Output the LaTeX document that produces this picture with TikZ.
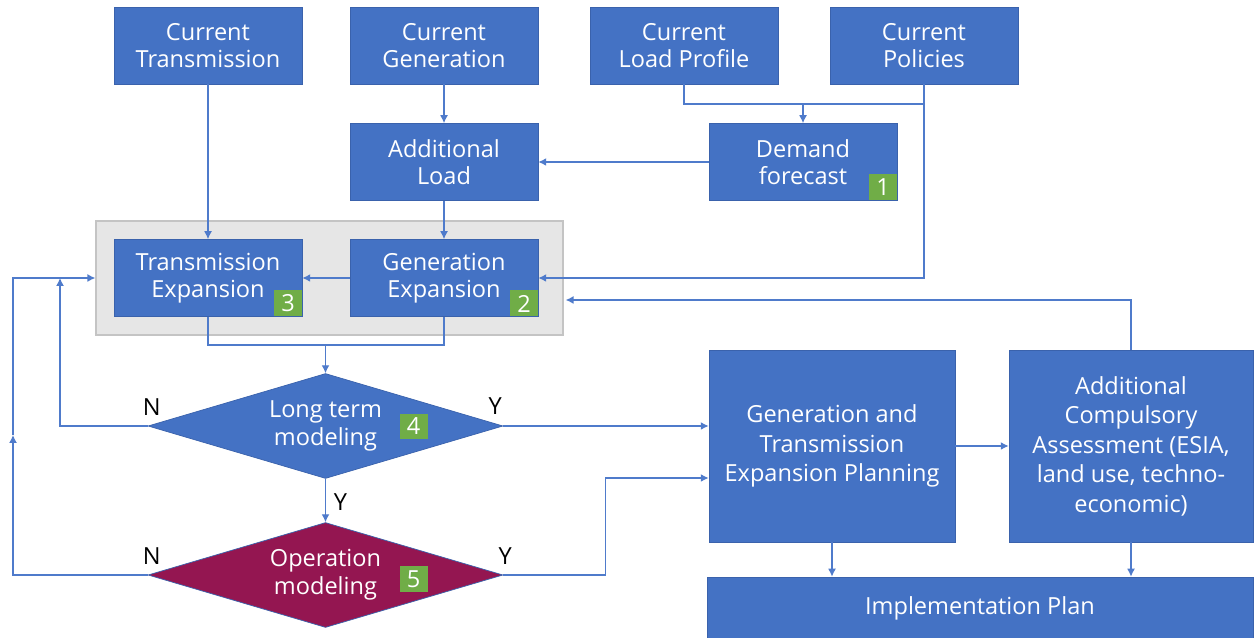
\documentclass[tikz,border=0pt]{standalone}
\usepackage{fontspec}
\setmainfont{Open Sans}
\usetikzlibrary{arrows.meta,calc,positioning,shapes.geometric}

\definecolor{boxblue}{HTML}{4472C4}
\definecolor{boxedge}{HTML}{3A62AC}
\definecolor{linkblue}{HTML}{4F7BCB}
\definecolor{opred}{HTML}{941651}
\definecolor{tagGreen}{HTML}{70AD47}
\definecolor{grpfill}{HTML}{E6E6E6}
\definecolor{grpedge}{HTML}{C4C4C4}

\begin{document}
\begin{tikzpicture}[x=0.02cm,y=-0.02cm,>={Latex[length=4.5pt,width=4.5pt]},
  box/.style={draw=boxedge,line width=0.4pt,fill=boxblue,text=white,align=center,
    minimum width=3.76cm,minimum height=1.54cm,inner sep=1pt,font=\fontsize{13.4}{15.3}\selectfont},
  bigbox/.style={box,minimum width=4.92cm,minimum height=3.84cm,font=\fontsize{13.4}{16.8}\selectfont},
  dec/.style={diamond,aspect=3.4,draw=boxedge,line width=0.4pt,fill=boxblue,text=white,align=center,
    minimum width=7.1cm,minimum height=2.1cm,inner sep=0pt,font=\fontsize{13.4}{15.9}\selectfont},
  grp/.style={draw=grpedge,line width=0.8pt,fill=grpfill,minimum width=9.34cm,minimum height=2.28cm},
  tag/.style={fill=tagGreen,text=white,minimum width=0.56cm,minimum height=0.52cm,inner sep=0pt,
    font=\fontsize{13.4}{15}\selectfont},
  yn/.style={text=black,font=\fontsize{13.4}{15}\selectfont},
  link/.style={draw=linkblue,line width=0.7pt},
  arr/.style={link,->}]
\useasboundingbox (0,0) rectangle (1255,638);

% grey frame round the two expansion models
\node[grp] (grp) at (329.5,278) {};

% inputs
\node[box] (ctr) at (208,45.5) {Current\\Transmission};
\node[box] (cgen) at (444,45.5) {Current\\Generation};
\node[box] (clp) at (684,45.5) {Current\\Load Profile};
\node[box] (cpol) at (924,45.5) {Current\\Policies};

\node[box] (addl) at (444,162) {Additional\\Load};
\node[box] (dem) at (803,162) {Demand\\forecast};
\node[box] (trx) at (208,278) {Transmission\\Expansion};
\node[box] (genx) at (444,278) {Generation\\Expansion};

% checks
\node[dec] (lt) at (325.5,426) {Long term\\modeling};
\node[dec,fill=opred] (op) at (325.5,575) {Operation\\modeling};

% outputs
\node[bigbox] (gtp) at (832,446) {Generation and\\Transmission\\Expansion Planning};
\node[bigbox,minimum width=4.88cm] (acs) at (1131,446) {Additional\\Compulsory\\Assessment (ESIA,\\land use, techno-\\economic)};
\node[box,minimum width=10.92cm,minimum height=1.24cm] (impl) at (980,608) {Implementation Plan};

% step numbers
\node[tag,anchor=south east] (t1) at (dem.south east) {1};
\node[tag,anchor=south east] (t2) at (genx.south east) {2};
\node[tag,anchor=south east] (t3) at (trx.south east) {3};
\node[tag] (t4) at (413.5,426.5) {4};
\node[tag] (t5) at (413.5,579) {5};

% junction points
\coordinate (dmerge) at (803,104);
\coordinate (xmerge) at (325.5,345);
\coordinate (nup) at (60,278);
\coordinate (nmid) at (13,435);

\draw[arr] (ctr) -- (trx);
\draw[arr] (cgen) -- (addl);
\draw[link] (clp.south) |- (dmerge) -| (cpol.south);
\draw[arr] (dmerge) -- (dem);
\draw[arr] (cpol.south) |- (genx.east);
\draw[arr] (dem) -- (addl);
\draw[arr] (addl) -- (genx);
\draw[arr] (genx) -- (trx);
\draw[link] (trx.south) |- (xmerge) -| (genx.south);
\draw[arr] (xmerge) -- (lt.north);
\draw[arr] (lt.west) -| (nup);
\draw[arr] (lt.east) -- ($(gtp.west)+(0,-20)$);
\draw[arr] (lt.south) -- (op.north);
\draw[arr] (op.west) -| (nmid);
\draw[arr] (nmid) |- (grp.west);
\draw[arr] (op.east) -- ++(102,0) |- ($(gtp.west)+(0,32)$);
\draw[arr] (gtp) -- (acs);
\draw[arr] (acs.north) |- ($(grp.east)+(2,22)$);
\draw[arr] (gtp.south) -- (gtp.south |- impl.north);
\draw[arr] (acs.south) -- (acs.south |- impl.north);

% branch labels
\node[yn] at ($(lt.west)+(4,-19)$) {N};
\node[yn] at ($(lt.east)+(-8,-20)$) {Y};
\node[yn] at ($(lt.south)+(15,23)$) {Y};
\node[yn] at ($(op.west)+(4,-19)$) {N};
\node[yn] at ($(op.east)+(2,-19)$) {Y};
\end{tikzpicture}
\end{document}
